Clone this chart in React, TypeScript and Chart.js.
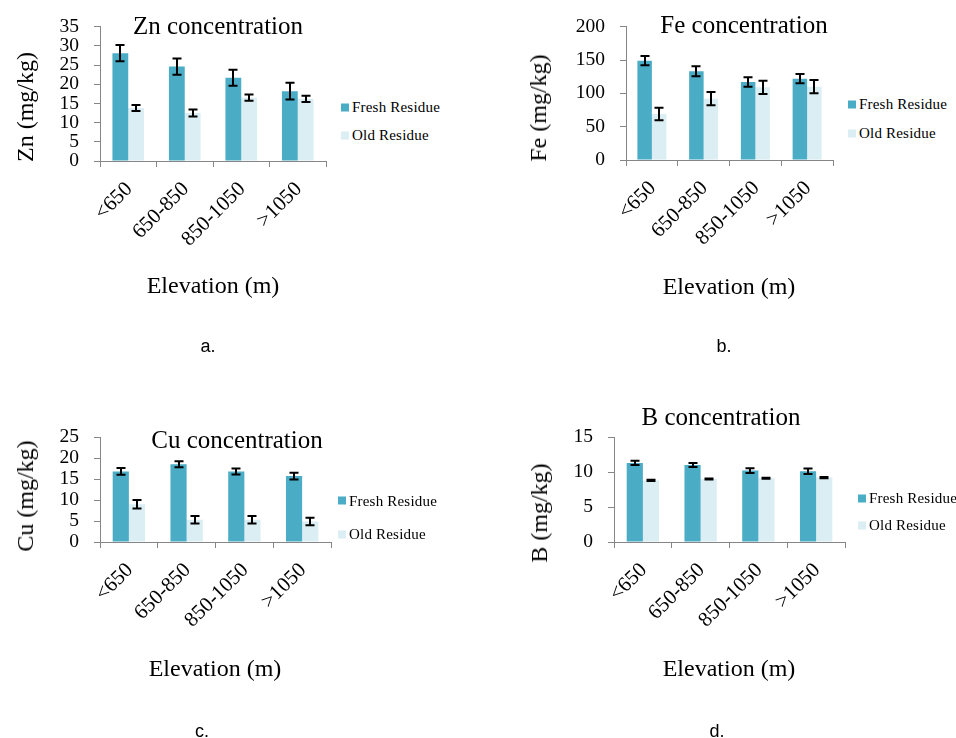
import React, { useEffect, useRef } from "react";
import { Chart, registerables } from "chart.js";
Chart.register(...registerables);

const categories = ["<650", "650-850", "850-1050", ">1050"];
const seriesNames = ["Fresh Residue", "Old Residue"];
const xTitle = "Elevation (m)";

const znFresh = [28.1, 24.6, 21.7, 18.2];
const znFreshErr = [2.1, 2.1, 2.1, 2.2];
const znOld = [13.8, 12.5, 16.5, 16.2];
const znOldErr = [0.8, 0.9, 0.8, 0.8];

const feFresh = [149, 133, 117, 122];
const feFreshErr = [7, 7.5, 7, 7];
const feOld = [69, 92, 109, 110];
const feOldErr = [9.5, 10, 10, 10];

const cuFresh = [16.8, 18.5, 16.8, 15.7];
const cuFreshErr = [0.8, 0.7, 0.7, 0.8];
const cuOld = [9.0, 5.3, 5.3, 4.9];
const cuOldErr = [1.0, 0.9, 0.9, 0.9];

const bFresh = [11.3, 11.0, 10.2, 10.1];
const bFreshErr = [0.3, 0.3, 0.35, 0.4];
const bOld = [8.8, 9.0, 9.1, 9.2];
const bOldErr = [0.08, 0.08, 0.08, 0.08];

const FRESH = "#4BACC6";
const OLD = "#DAEEF3";
const AXIS = "#868686";
const SERIF = "'Liberation Serif', 'Times New Roman', serif";
const SANS = "'Liberation Sans', Arial, sans-serif";

type PanelCfg = {
  title: string;
  yTitle: string;
  sub: string;
  fresh: number[];
  freshErr: number[];
  old: number[];
  oldErr: number[];
  max: number;
  step: number;
  box: { left: number; top: number; w: number; h: number };
  padTop: number;
  padRight: number;
  yWidth: number;
  xHeight: number;
  titlePos: [number, number];
  yTitlePos: [number, number];
  legendX: number;
  legendYs: [number, number];
  elevPos: [number, number];
  subPos: [number, number];
};

const panels: PanelCfg[] = [
  {
    title: "Zn concentration", yTitle: "Zn (mg/kg)", sub: "a.",
    fresh: znFresh, freshErr: znFreshErr, old: znOld, oldErr: znOldErr,
    max: 35, step: 5,
    box: { left: 0, top: 0, w: 340, h: 330 }, padTop: 24, padRight: 14, yWidth: 100, xHeight: 169,
    titlePos: [218, 24.5], yTitlePos: [25, 107], legendX: 341, legendYs: [107, 135],
    elevPos: [213, 285], subPos: [208, 346],
  },
  {
    title: "Fe concentration", yTitle: "Fe (mg/kg)", sub: "b.",
    fresh: feFresh, freshErr: feFreshErr, old: feOld, oldErr: feOldErr,
    max: 200, step: 50,
    box: { left: 526, top: 0, w: 321, h: 330 }, padTop: 24, padRight: 14, yWidth: 100, xHeight: 170,
    titlePos: [744, 23.5], yTitlePos: [538, 108], legendX: 848, legendYs: [104, 133],
    elevPos: [729, 286], subPos: [724, 346],
  },
  {
    title: "Cu concentration", yTitle: "Cu (mg/kg)", sub: "c.",
    fresh: cuFresh, freshErr: cuFreshErr, old: cuOld, oldErr: cuOldErr,
    max: 25, step: 5,
    box: { left: 0, top: 410, w: 345, h: 300 }, padTop: 27, padRight: 14, yWidth: 100, xHeight: 168,
    titlePos: [237, 438.5], yTitlePos: [25, 496], legendX: 338, legendYs: [500.5, 534],
    elevPos: [215, 668], subPos: [202, 731],
  },
  {
    title: "B concentration", yTitle: "B (mg/kg)", sub: "d.",
    fresh: bFresh, freshErr: bFreshErr, old: bOld, oldErr: bOldErr,
    max: 15, step: 5,
    box: { left: 514, top: 410, w: 345, h: 300 }, padTop: 27, padRight: 14, yWidth: 100, xHeight: 168,
    titlePos: [721, 416], yTitlePos: [539, 513], legendX: 858, legendYs: [498, 525],
    elevPos: [729, 668], subPos: [717, 731],
  },
];

const errorBars = {
  id: "errorBars",
  afterDatasetsDraw(chart: any) {
    const { ctx } = chart;
    const yScale = chart.scales.y;
    ctx.save();
    ctx.strokeStyle = "#000";
    ctx.lineWidth = 2;
    chart.data.datasets.forEach((ds: any, di: number) => {
      const meta = chart.getDatasetMeta(di);
      meta.data.forEach((el: any, i: number) => {
        const v = ds.data[i];
        const e = ds.errors[i];
        const x = Math.round(el.x);
        const yt = yScale.getPixelForValue(v + e);
        const yb = yScale.getPixelForValue(v - e);
        const hw = 4.5;
        ctx.beginPath();
        ctx.moveTo(x, yt);
        ctx.lineTo(x, yb);
        ctx.moveTo(x - hw, yt);
        ctx.lineTo(x + hw, yt);
        ctx.moveTo(x - hw, yb);
        ctx.lineTo(x + hw, yb);
        ctx.stroke();
      });
    });
    ctx.restore();
  },
};

function Panel({ cfg }: { cfg: PanelCfg }) {
  const ref = useRef<HTMLCanvasElement | null>(null);
  useEffect(() => {
    if (!ref.current) return;
    const chart = new Chart(ref.current, {
      type: "bar",
      data: {
        labels: categories,
        datasets: [
          { label: seriesNames[0], data: cfg.fresh, errors: cfg.freshErr, backgroundColor: FRESH, borderWidth: 0 } as any,
          { label: seriesNames[1], data: cfg.old, errors: cfg.oldErr, backgroundColor: OLD, borderWidth: 0 } as any,
        ],
      },
      options: {
        responsive: false,
        maintainAspectRatio: false,
        animation: false,
        devicePixelRatio: 1,
        layout: { padding: { top: cfg.padTop, right: cfg.padRight, left: 0, bottom: 0 } },
        datasets: { bar: { categoryPercentage: 0.56, barPercentage: 1.0 } },
        plugins: { legend: { display: false }, title: { display: false }, tooltip: { enabled: false } },
        scales: {
          x: {
            grid: { display: true, drawOnChartArea: false, drawTicks: true, tickLength: 6, color: AXIS, offset: true },
            border: { display: true, color: AXIS, width: 1 },
            ticks: {
              autoSkip: false, maxRotation: 45, minRotation: 45, padding: 10, labelOffset: 1,
              color: "#000", font: { family: SERIF, size: 21 },
            },
            afterFit: (s: any) => { s.height = cfg.xHeight; },
          },
          y: {
            min: 0, max: cfg.max,
            grid: { display: true, drawOnChartArea: false, drawTicks: true, tickLength: 6, color: AXIS },
            border: { display: true, color: AXIS, width: 1 },
            ticks: {
              stepSize: cfg.step, autoSkip: false, padding: 15,
              color: "#000", font: { family: SERIF, size: 19.5 },
            },
            afterFit: (s: any) => { s.width = cfg.yWidth; },
          },
        },
      } as any,
      plugins: [errorBars],
    });
    return () => chart.destroy();
  }, [cfg]);

  const txt = (x: number, y: number, extra: React.CSSProperties = {}): React.CSSProperties => ({
    position: "absolute", left: x, top: y, transform: "translate(-50%,-50%)", lineHeight: 1,
    whiteSpace: "nowrap", fontFamily: SERIF, color: "#000", ...extra,
  });

  return (
    <>
      <canvas
        ref={ref}
        width={cfg.box.w}
        height={cfg.box.h}
        style={{ position: "absolute", left: cfg.box.left, top: cfg.box.top, width: cfg.box.w, height: cfg.box.h }}
      />
      <div style={txt(cfg.titlePos[0], cfg.titlePos[1], { fontSize: 25 })}>{cfg.title}</div>
      <div style={txt(cfg.yTitlePos[0], cfg.yTitlePos[1], { fontSize: 24, transform: "translate(-50%,-50%) rotate(-90deg)" })}>
        {cfg.yTitle}
      </div>
      <div style={txt(cfg.elevPos[0], cfg.elevPos[1], { fontSize: 24 })}>{xTitle}</div>
      <div style={txt(cfg.subPos[0], cfg.subPos[1], { fontSize: 18, fontFamily: SANS })}>{cfg.sub}</div>
      {seriesNames.map((n, i) => (
        <div
          key={n}
          style={{
            position: "absolute", left: cfg.legendX, top: cfg.legendYs[i], transform: "translateY(-50%)",
            display: "flex", alignItems: "center", whiteSpace: "nowrap", fontFamily: SERIF, fontSize: 15, lineHeight: 1,
            letterSpacing: 0.2,
          }}
        >
          <span style={{ display: "inline-block", width: 8, height: 8, background: i === 0 ? FRESH : OLD, marginRight: 3 }} />
          <span>{n}</span>
        </div>
      ))}
    </>
  );
}

export default function App() {
  return (
    <div style={{ position: "absolute", left: 0, top: 0, width: 956, height: 738, background: "#fff" }}>
      {panels.map((p) => (
        <Panel key={p.title} cfg={p} />
      ))}
    </div>
  );
}
